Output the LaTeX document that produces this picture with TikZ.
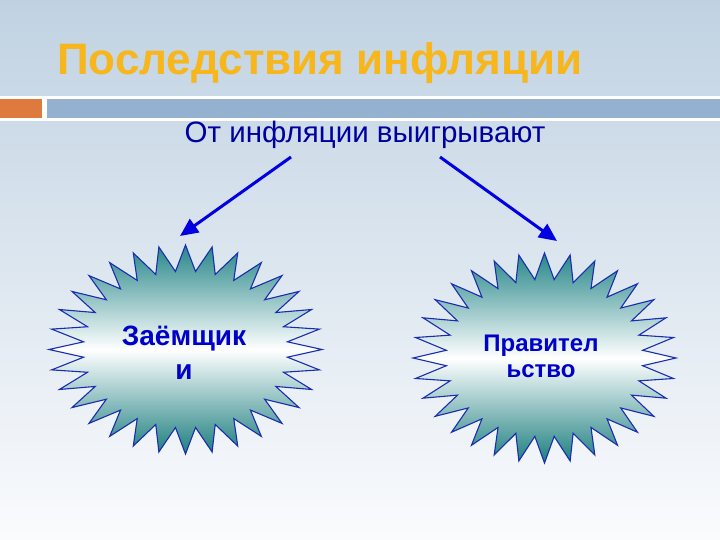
\documentclass[tikz,border=0pt]{standalone}
\usepackage{fontspec}
\setmainfont{Liberation Sans}
\usetikzlibrary{arrows.meta}
\definecolor{bgtop}{RGB}{192,210,226}
\definecolor{bgbot}{RGB}{250,251,253}
\definecolor{titlecol}{RGB}{246,182,28}
\definecolor{orangebar}{RGB}{222,122,62}
\definecolor{bluebar}{RGB}{148,178,208}
\definecolor{subcol}{RGB}{0,0,160}
\definecolor{arrowblue}{RGB}{0,0,225}
\definecolor{startext}{RGB}{0,0,200}
\definecolor{starline}{RGB}{25,45,175}
\definecolor{tealtop}{RGB}{38,134,136}
\definecolor{tealbot}{RGB}{28,126,126}
\newcommand\mystarburst[4]{%
  \path[starfill] ({#1},{#2-#4})
    \foreach \i in {0,...,31}{
      -- ({#1+0.75*#3*cos(90+\i*11.25+5.625)},{#2-0.75*#4*sin(90+\i*11.25+5.625)})
      -- ({#1+#3*cos(90+(\i+1)*11.25)},{#2-#4*sin(90+(\i+1)*11.25)})
    } -- cycle;}
\begin{document}
\begin{tikzpicture}[x=1pt,y=-1pt,
  starfill/.style={draw=starline, line width=1.1pt, top color=tealtop, bottom color=tealbot, middle color=white},
  arr/.style={draw=arrowblue, line width=3pt, -{Triangle[length=18pt,width=16pt]}},
  startxt/.style={text=startext, font=\bfseries\fontsize{28}{34}\selectfont, align=center, inner sep=0pt}]
\useasboundingbox (0,0) rectangle (720,540);
\shade[top color=bgtop, bottom color=bgbot] (0,0) rectangle (720,540);
% title
\node[anchor=base west, inner sep=0pt, text=titlecol, font=\bfseries\fontsize{44}{52}\selectfont] (title) at (57,75) {Последствия инфляции};
% bars
\fill[white] (0,96) rectangle (720,121);
\fill[orangebar] (0,99) rectangle (42,118);
\fill[bluebar] (47,99) rectangle (720,118);
% subtitle
\node[anchor=base, inner sep=0pt, text=subcol, font=\fontsize{29.5}{34}\selectfont] (sub) at (365,143) {От инфляции выигрывают};
% stars
\mystarburst{185.5}{349.5}{136.5}{104.5}
\mystarburst{544.5}{358}{131.5}{105}
\node[startxt] (borrowers) at (184,353) {Заёмщик\\и};
\node[startxt, font=\bfseries\fontsize{24}{26}\selectfont] (gov) at (541,356) {Правител\\ьство};
% arrows
\coordinate (l1) at (291,157);
\coordinate (l2) at (180,236);
\coordinate (r1) at (440,157);
\coordinate (r2) at (557,241);
\draw[arr] (l1) -- (l2);
\draw[arr] (r1) -- (r2);
\end{tikzpicture}
\end{document}
